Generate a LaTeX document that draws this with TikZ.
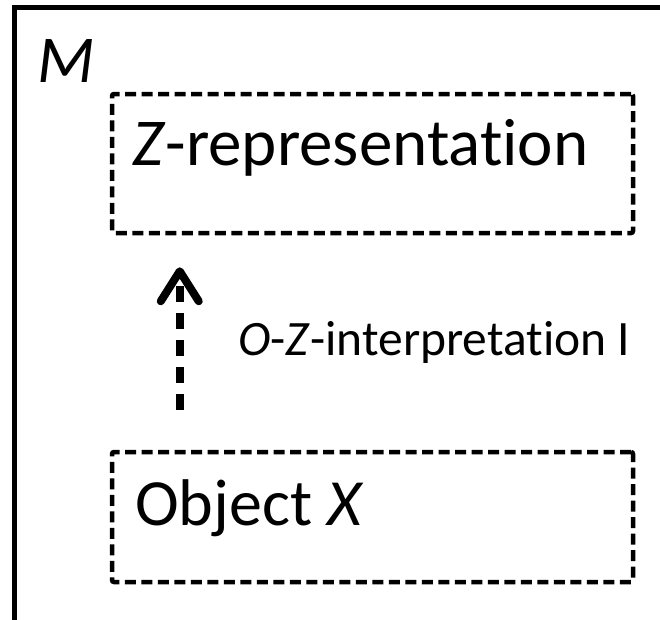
\documentclass[tikz,border=0pt]{standalone}
\usepackage{fontspec}
\setmainfont{Carlito}[Ligatures=NoCommon]
\usetikzlibrary{arrows.meta}
\tikzset{
  dashbox/.style={draw=black, line width=4.5pt, dash pattern=on 11pt off 5.5pt,
    rounded corners=2pt, rectangle, inner sep=0pt},
  bigtext/.style={font=\fontsize{67}{72}\selectfont, inner sep=0pt, anchor=base west},
  smalltext/.style={font=\fontsize{49.5}{54}\selectfont, inner sep=0pt, anchor=base west},
  frameline/.style={line width=5.5pt},
  interp/.style={line width=8pt, dash pattern=on 16pt off 11pt,
    -{Straight Barb[length=30pt, width=38pt, line cap=round, line join=round]}}
}
\begin{document}
\begin{tikzpicture}[x=1pt, y=-1pt]
  \useasboundingbox (0,0) rectangle (660,619);
  % outer model frame (top and left edges)
  \draw[frameline] (14.5,640) -- (14.5,7.5) -- (680,7.5);
  \node[bigtext] (mlabel) at (37,82) {\itshape M};
  % representation box
  \node[dashbox, minimum width=521pt, minimum height=139pt] (rep) at (372.5,163.5) {};
  \node[bigtext] (reptext) at (132,165) {\textit{Z}-representation};
  % object box
  \node[dashbox, minimum width=521pt, minimum height=130pt] (obj) at (372.5,517) {};
  \node[bigtext, font=\fontsize{66}{70}\selectfont] (objtext) at (135,525) {Object \textit{X}};
  % interpretation arrow
  \draw[interp, shorten <=40pt, shorten >=32pt]
    ([xshift=70pt]obj.north west) -- ([xshift=70pt]rep.south west);
  \node[smalltext] (interplabel) at (238,355) {\textit{O}-\textit{Z}-interpretation I};
\end{tikzpicture}
\end{document}
